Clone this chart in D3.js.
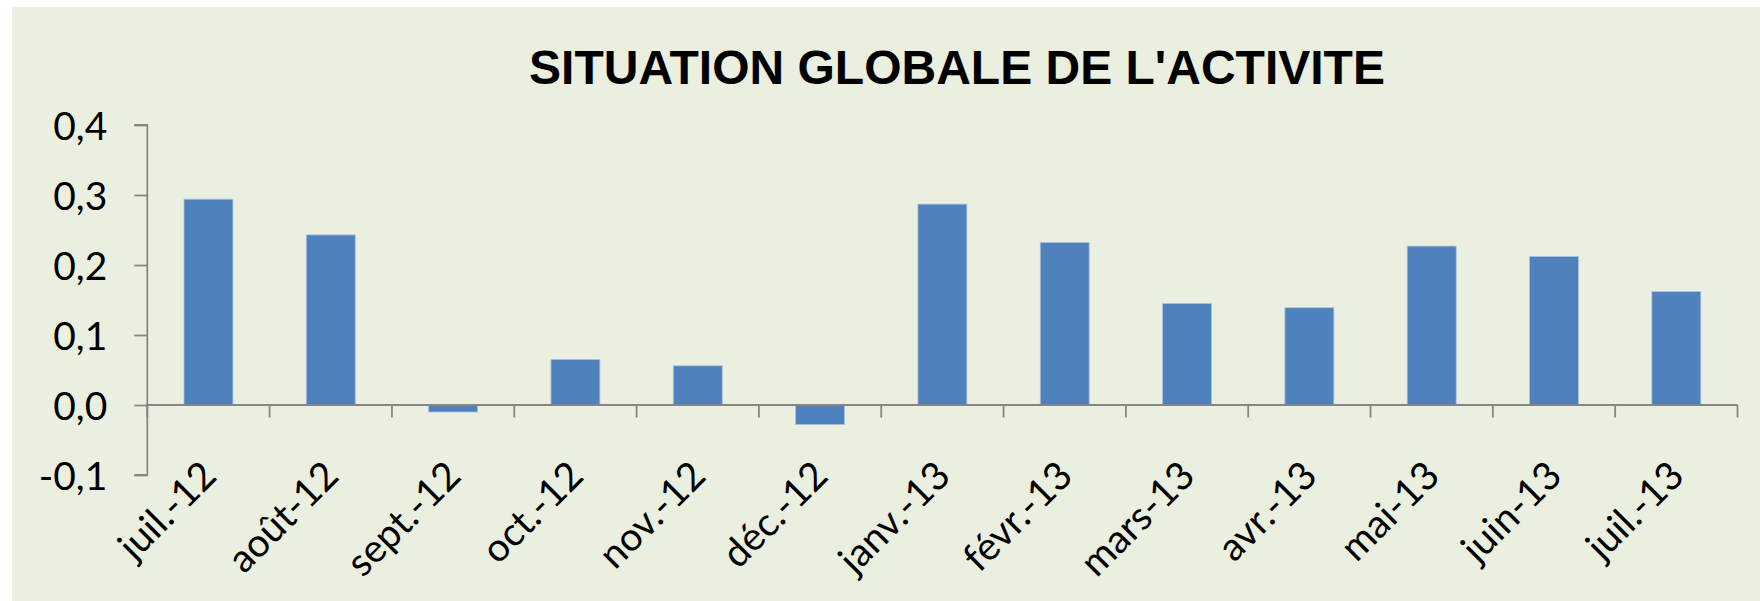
<!DOCTYPE html>
<html>
<head>
<meta charset="utf-8">
<script src="https://cdn.jsdelivr.net/npm/d3@7"></script>
<style>
  html, body { margin: 0; padding: 0; background: #ffffff; }
  svg { display: block; }
</style>
</head>
<body>
<svg id="chart" width="1760" height="601"></svg>
<script>
const title = "SITUATION GLOBALE DE L'ACTIVITE";
const categories = ["juil.-12", "août-12", "sept.-12", "oct.-12", "nov.-12", "déc.-12",
                    "janv.-13", "févr.-13", "mars-13", "avr.-13", "mai-13", "juin-13", "juil.-13"];
const values = [0.294, 0.243, -0.010, 0.065, 0.056, -0.028, 0.287, 0.232, 0.145, 0.139, 0.227, 0.212, 0.162];
const yTicks = [-0.1, 0.0, 0.1, 0.2, 0.3, 0.4];

const svg = d3.select("#chart");
const W = 1760, H = 601;

svg.append("rect").attr("x", 12).attr("y", 7).attr("width", W - 12).attr("height", H - 7)
  .attr("fill", "#EBEFDF");

const x = d3.scaleBand().domain(categories).range([147.3, 1737.5]).padding(0);
const y = d3.scaleLinear().domain([-0.1, 0.4]).range([475, 125]);

const axisColor = "#868686";
const fmt = v => d3.format(".1f")(v).replace(".", ",").replace("−", "-");

// bars
const bw = x.bandwidth() * 0.4;
svg.append("g").selectAll("rect").data(values).join("rect")
  .attr("x", (d, i) => x(categories[i]) + x.bandwidth() / 2 - bw / 2)
  .attr("y", d => y(Math.max(0, d)))
  .attr("width", bw)
  .attr("height", d => Math.abs(y(d) - y(0)))
  .attr("fill", "#4F81BD")
  .attr("stroke", "#A9C1DF")
  .attr("stroke-width", 0.8);

// y axis
const yAxis = d3.axisLeft(y).tickValues(yTicks).tickSize(13).tickFormat(fmt);
const gy = svg.append("g").attr("transform", `translate(${x.range()[0]},0)`).call(yAxis);
gy.select(".domain").attr("stroke", axisColor).attr("stroke-width", 1.8)
  .attr("d", `M-13,${y(0.4)}H0V${y(-0.1)}H-13`);
gy.selectAll(".tick line").attr("stroke", axisColor).attr("stroke-width", 1.8);
gy.selectAll(".tick text")
  .attr("x", -40)
  .attr("dy", "0.36em")
  .attr("fill", "#000")
  .style("font-family", "Lato, 'Open Sans', sans-serif")
  .style("font-size", "39px");

// x axis at zero
const xAxis = d3.axisBottom(x).tickSize(0).tickFormat("");
const gx = svg.append("g").attr("transform", `translate(0,${y(0)})`).call(xAxis);
gx.select(".domain").attr("stroke", axisColor).attr("stroke-width", 1.8)
  .attr("d", `M${x.range()[0]},0H${x.range()[1]}`);
gx.selectAll(".tick").remove();
// tick marks at band boundaries
const bounds = categories.map(c => x(c)).concat([x.range()[1]]);
gx.selectAll("line.bt").data(bounds).join("line").attr("class", "bt")
  .attr("x1", d => d).attr("x2", d => d).attr("y1", 0).attr("y2", 12.5)
  .attr("stroke", axisColor).attr("stroke-width", 1.8);

// x labels
svg.append("g").selectAll("text").data(categories).join("text")
  .attr("transform", d => `translate(${x(d) + x.bandwidth() / 2 + 10},${478}) rotate(-45)`)
  .attr("text-anchor", "end")
  .attr("fill", "#000")
  .style("font-family", "Lato, 'Open Sans', sans-serif")
  .style("font-size", "39px")
  .text(d => d);

// title
svg.append("text")
  .attr("x", 957).attr("y", 84)
  .attr("text-anchor", "middle")
  .attr("fill", "#000")
  .style("font-family", "'Liberation Sans', Arial, sans-serif")
  .style("font-weight", "bold")
  .style("font-size", "48px")
  .text(title);
</script>
</body>
</html>
